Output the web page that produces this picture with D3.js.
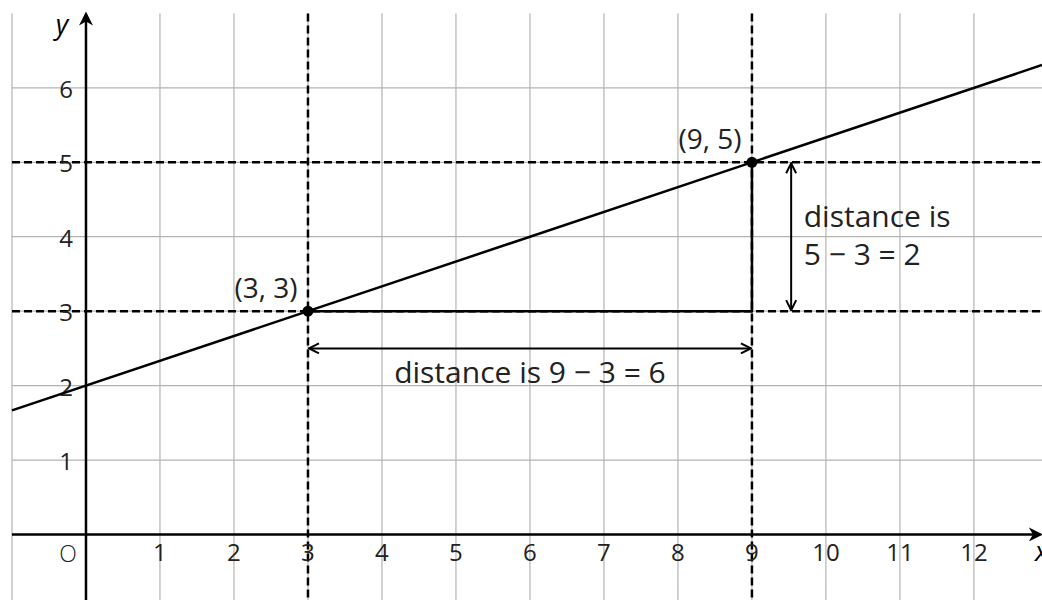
<!DOCTYPE html>
<html>
<head>
<meta charset="utf-8">
<script src="https://cdn.jsdelivr.net/npm/d3@7"></script>
<style>
  body { margin: 0; background: #fff; }
  svg { display: block; font-family: "Open Sans", "Noto Sans", sans-serif; }
</style>
</head>
<body>
<svg id="chart"></svg>
<script>
// data
const xTicks = [1, 2, 3, 4, 5, 6, 7, 8, 9, 10, 11, 12];
const yTicks = [1, 2, 3, 4, 5, 6];
const gridX = [-1, 0, 1, 2, 3, 4, 5, 6, 7, 8, 9, 10, 11, 12];
const gridY = [0, 1, 2, 3, 4, 5, 6];
const points = [{x: 3, y: 3, label: "(3, 3)"}, {x: 9, y: 5, label: "(9, 5)"}];
const slope = 1 / 3;
const intercept = 2;
const dashedX = [3, 9];
const dashedY = [3, 5];

const width = 1042;
const height = 600;

const x = d3.scaleLinear().domain([-1.162, 12.92]).range([0, width]);
const y = d3.scaleLinear().domain([-0.88, 7.18]).range([height, 0]);

const svg = d3.select("#chart").attr("width", width).attr("height", height);

// arrow markers
const defs = svg.append("defs");
defs.append("marker")
    .attr("id", "axisHead")
    .attr("viewBox", "0 0 10 10")
    .attr("refX", 8).attr("refY", 5)
    .attr("markerWidth", 14).attr("markerHeight", 14)
    .attr("markerUnits", "userSpaceOnUse")
    .attr("orient", "auto")
    .append("path")
    .attr("d", "M0,0 L10,5 L0,10 L3,5 Z")
    .attr("fill", "#000");
defs.append("marker")
    .attr("id", "openHead")
    .attr("viewBox", "0 0 12 12")
    .attr("refX", 11).attr("refY", 6)
    .attr("markerWidth", 12).attr("markerHeight", 12)
    .attr("markerUnits", "userSpaceOnUse")
    .attr("orient", "auto-start-reverse")
    .append("path")
    .attr("d", "M1,1 L11,6 L1,11")
    .attr("fill", "none")
    .attr("stroke", "#000")
    .attr("stroke-width", 2);

// grid
const grid = svg.append("g").attr("stroke", "#b3b3b3").attr("stroke-width", 1.2);
grid.selectAll("line.v")
    .data(gridX)
    .join("line")
    .attr("class", "v")
    .attr("x1", d => x(d)).attr("x2", d => x(d))
    .attr("y1", y(7)).attr("y2", height);
grid.selectAll("line.h")
    .data(gridY)
    .join("line")
    .attr("class", "h")
    .attr("x1", x(-1)).attr("x2", width)
    .attr("y1", d => y(d)).attr("y2", d => y(d));

// dashed guides
const dash = svg.append("g")
    .attr("stroke", "#000")
    .attr("stroke-width", 2.5)
    .attr("stroke-dasharray", "8,4");
dash.selectAll("line.dv")
    .data(dashedX)
    .join("line")
    .attr("class", "dv")
    .attr("x1", d => x(d)).attr("x2", d => x(d))
    .attr("y1", y(7)).attr("y2", height);
dash.selectAll("line.dh")
    .data(dashedY)
    .join("line")
    .attr("class", "dh")
    .attr("x1", x(-1)).attr("x2", width)
    .attr("y1", d => y(d)).attr("y2", d => y(d));

// axes
svg.append("line")
    .attr("x1", x(-1)).attr("x2", width - 2)
    .attr("y1", y(0)).attr("y2", y(0))
    .attr("stroke", "#000").attr("stroke-width", 2.5)
    .attr("marker-end", "url(#axisHead)");
svg.append("line")
    .attr("x1", x(0)).attr("x2", x(0))
    .attr("y1", height).attr("y2", y(7) + 1)
    .attr("stroke", "#000").attr("stroke-width", 2.5)
    .attr("marker-end", "url(#axisHead)");

// tick labels
svg.append("g").selectAll("text")
    .data(xTicks)
    .join("text")
    .attr("x", d => x(d))
    .attr("y", y(0) + 27)
    .attr("text-anchor", "middle")
    .attr("font-size", 24)
    .attr("fill", "#222")
    .text(d => d);
svg.append("g").selectAll("text")
    .data(yTicks)
    .join("text")
    .attr("x", x(0) - 13)
    .attr("y", d => y(d) + 10)
    .attr("text-anchor", "end")
    .attr("font-size", 24)
    .attr("fill", "#222")
    .text(d => d);
svg.append("text")
    .attr("x", x(0) - 18).attr("y", y(0) + 28)
    .attr("text-anchor", "middle")
    .attr("font-size", 23).attr("fill", "#222")
    .attr("font-weight", 300)
    .text("O");
svg.append("text")
    .attr("x", x(0) - 24).attr("y", 34)
    .attr("text-anchor", "middle")
    .attr("font-size", 27).attr("font-style", "italic")
    .text("y");
svg.append("text")
    .attr("x", width - 7).attr("y", y(0) + 27)
    .attr("font-size", 27).attr("font-style", "italic")
    .text("x");

// the line y = x/3 + 2
const lineX = [-1, 12.92];
svg.append("path")
    .datum(lineX)
    .attr("d", d3.line().x(d => x(d)).y(d => y(slope * d + intercept)))
    .attr("stroke", "#000").attr("stroke-width", 2.5).attr("fill", "none");

// triangle legs
const [p1, p2] = points;
svg.append("path")
    .datum([[p1.x, p1.y], [p2.x, p1.y], [p2.x, p2.y]])
    .attr("d", d3.line().x(d => x(d[0])).y(d => y(d[1])))
    .attr("stroke", "#000").attr("stroke-width", 2.5).attr("fill", "none");

// distance arrows
svg.append("line")
    .attr("x1", x(p1.x) + 1).attr("x2", x(p2.x) - 1)
    .attr("y1", y(2.5)).attr("y2", y(2.5))
    .attr("stroke", "#000").attr("stroke-width", 2)
    .attr("marker-start", "url(#openHead)")
    .attr("marker-end", "url(#openHead)");
svg.append("line")
    .attr("x1", x(9.53)).attr("x2", x(9.53))
    .attr("y1", y(p2.y) + 1).attr("y2", y(p1.y) - 1)
    .attr("stroke", "#000").attr("stroke-width", 2)
    .attr("marker-start", "url(#openHead)")
    .attr("marker-end", "url(#openHead)");

// points
svg.append("g").selectAll("circle")
    .data(points)
    .join("circle")
    .attr("cx", d => x(d.x)).attr("cy", d => y(d.y))
    .attr("r", 5.5).attr("fill", "#000");
svg.append("g").selectAll("text")
    .data(points)
    .join("text")
    .attr("x", d => x(d.x) - 42)
    .attr("y", d => y(d.y) - 13)
    .attr("text-anchor", "middle")
    .attr("font-size", 28)
    .attr("fill", "#222")
    .text(d => d.label);

// annotations
svg.append("text")
    .attr("x", x(6)).attr("y", y(2.5) + 35)
    .attr("text-anchor", "middle")
    .attr("font-size", 30).attr("fill", "#222")
    .text("distance is 9 \u2212 3 = 6");
const vText = svg.append("text")
    .attr("x", x(9.7)).attr("y", y(4) - 10)
    .attr("font-size", 30).attr("fill", "#222");
vText.append("tspan").text("distance is");
vText.append("tspan").attr("x", x(9.7)).attr("dy", 38).text("5 \u2212 3 = 2");
</script>
</body>
</html>
